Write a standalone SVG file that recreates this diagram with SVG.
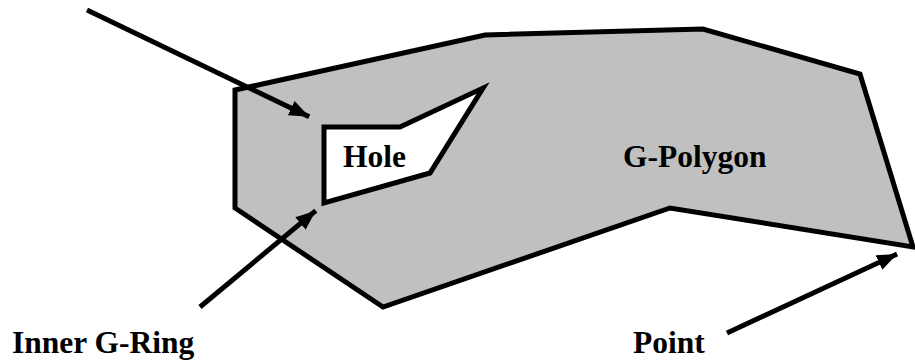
<svg xmlns="http://www.w3.org/2000/svg" width="915" height="362" viewBox="0 0 915 362">
<style>
.shape{stroke:#000;stroke-width:5;stroke-linejoin:miter;stroke-miterlimit:10}
.poly{fill:#c0c0c0}
.hole{fill:#fff}
.conn{stroke:#000;stroke-width:5;fill:none}
.lbl{font-family:"Liberation Serif","Times New Roman",serif;font-weight:bold;font-size:31.5px;fill:#000}
</style>
<defs>
<marker id="ah" markerUnits="userSpaceOnUse" markerWidth="22" markerHeight="18" refX="20" refY="8" orient="auto">
<path d="M0,0 L20,8 L0,16 z" fill="#000"/>
</marker>
</defs>
<rect width="915" height="362" fill="#fff"/>
<g id="g-polygon">
<polygon class="shape poly" points="235,90 485,35 703,29 860,74 913,247 670,208 383,307 235,208"/>
<text class="lbl" x="623" y="167">G-Polygon</text>
</g>
<g id="hole">
<polygon class="shape hole" points="324,127 400,127 483,88 430,173 324,203"/>
<text class="lbl" x="343" y="167">Hole</text>
</g>
<g id="inner-g-ring">
<text class="lbl" x="12" y="353">Inner G-Ring</text>
</g>
<g id="point">
<text class="lbl" x="633" y="353">Point</text>
</g>
<g id="connectors">
<line class="conn" x1="87" y1="10" x2="309.2" y2="116.8" marker-end="url(#ah)"/>
<line class="conn" x1="200" y1="307" x2="315.8" y2="210.7" marker-end="url(#ah)"/>
<line class="conn" x1="727" y1="333" x2="897.1" y2="254.1" marker-end="url(#ah)"/>
</g>
</svg>
